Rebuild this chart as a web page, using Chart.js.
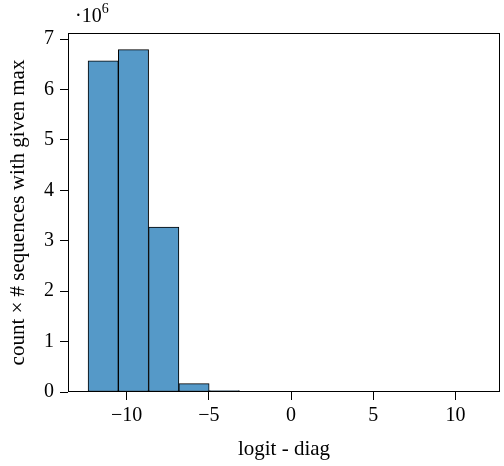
<!DOCTYPE html>
<html><head><meta charset="utf-8">
<script src="https://cdn.jsdelivr.net/npm/chart.js@4/dist/chart.umd.min.js"></script>
<style>html,body{margin:0;padding:0;background:#fff}#w{width:504px;height:466px}</style>
</head><body><div id="w"><canvas id="c"></canvas></div>
<script>
const binCenters = [-11.42, -9.58, -7.74, -5.90, -4.06, -2.22, -0.38, 1.46, 3.30, 5.14, 6.98, 8.82, 10.66];
const counts = [6.57, 6.79, 3.27, 0.165, 0.028, 0.008, 0.004, 0.002, 0.0015, 0.001, 0.001, 0.0007, 0.0005];
const xTicks = [-10, -5, 0, 5, 10];
const yTicks = [0, 1, 2, 3, 4, 5, 6, 7];
const xTitle = 'logit - diag';
const yTitle = 'count \u00d7 # sequences with given max';

const FONT = "'Liberation Serif', 'DejaVu Serif', serif";
const FS = 20;
const TFS = 21;
const frame = {
  id: 'frame',
  afterDraw(chart) {
    const {ctx, chartArea: a} = chart;
    ctx.save();
    ctx.strokeStyle = '#000';
    ctx.lineWidth = 1;
    ctx.strokeRect(a.left + 0.5, a.top + 0.5, a.right - a.left - 1, a.bottom - a.top - 1);
    ctx.fillStyle = '#000';
    ctx.textBaseline = 'alphabetic';
    ctx.font = FS + 'px ' + FONT;
    ctx.fillText('\u00b710', a.left + 7, a.top - 11);
    const w = ctx.measureText('\u00b710').width;
    ctx.font = '14px ' + FONT;
    ctx.fillText('6', a.left + 7 + w, a.top - 20);
    ctx.restore();
  }
};

new Chart(document.getElementById('c'), {
  type: 'bar',
  data: {
    datasets: [{
      data: binCenters.map((x, i) => ({x: x, y: counts[i]})),
      backgroundColor: '#5599c8',
      borderColor: '#000',
      borderWidth: 1,
      barPercentage: 1,
      categoryPercentage: 1,
      borderSkipped: false
    }]
  },
  options: {
    responsive: true,
    maintainAspectRatio: false,
    animation: false,
    layout: {padding: {top: 33, right: 4, left: 0, bottom: 0}},
    plugins: {legend: {display: false}, tooltip: {enabled: false}},
    scales: {
      x: {
        type: 'linear',
        offset: false,
        min: -13.56, max: 12.7,
        afterBuildTicks(s) { s.ticks = xTicks.map(v => ({value: v})); },
        afterFit(s) { s.height = 74; },
        grid: {display: true, offset: false, drawOnChartArea: false, tickLength: 8, color: '#000', tickColor: '#000'},
        border: {display: false},
        ticks: {
          color: '#000', font: {family: FONT, size: FS}, padding: 4,
          maxRotation: 0, autoSkip: false,
          callback: v => (v < 0 ? '\u2212' + Math.abs(v) : '' + v)
        },
        title: {display: true, text: xTitle, color: '#000', font: {family: FONT, size: TFS}, padding: {top: 2, bottom: 4}}
      },
      y: {
        min: 0, max: 7.12,
        afterBuildTicks(s) { s.ticks = yTicks.map(v => ({value: v})); },
        afterFit(s) { s.width = 68; },
        grid: {display: true, offset: false, drawOnChartArea: false, tickLength: 8, color: '#000', tickColor: '#000'},
        border: {display: false},
        ticks: {color: '#000', font: {family: FONT, size: FS}, padding: 6},
        title: {display: true, text: yTitle, color: '#000', font: {family: FONT, size: TFS}, padding: {top: 6, bottom: 0}}
      }
    }
  },
  plugins: [frame]
});
</script></body></html>
